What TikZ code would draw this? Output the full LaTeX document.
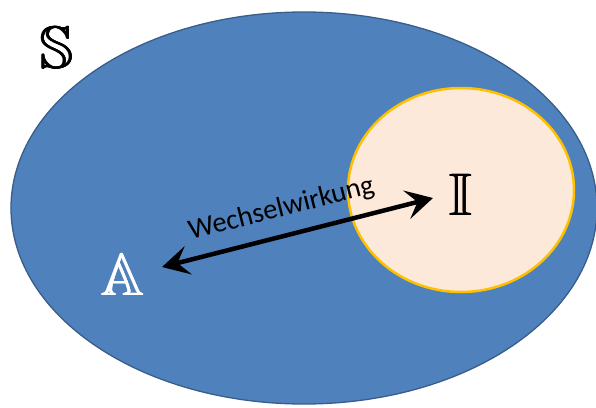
\documentclass[tikz,border=0pt]{standalone}
\usepackage{amssymb}
\usepackage{fontspec}
\newfontfamily\labelfont{Carlito}
\usetikzlibrary{arrows.meta}
\definecolor{setblue}{HTML}{4F81BD}
\definecolor{setblueedge}{HTML}{385D8A}
\definecolor{innerfill}{HTML}{FDE9D9}
\definecolor{innergold}{HTML}{FFC000}
% double-struck letter with heavier strokes (overprinted copies)
\newcommand\heavybb[1]{\ooalign{$\mathbb{#1}$\cr\kern0.6pt$\mathbb{#1}$\cr\kern1.2pt$\mathbb{#1}$\cr\raisebox{0.5pt}{\kern0.6pt$\mathbb{#1}$}\cr}}
\tikzset{
  setletter/.style={inner sep=0pt, font=\fontsize{60}{62}\selectfont},
  wwarrow/.style={line width=4.5pt, {Stealth[length=27pt,width=29pt,inset=11pt]}-{Stealth[length=27pt,width=29pt,inset=11pt]}},
  wwlabel/.style={font=\labelfont\fontsize{28.5}{30}\selectfont, inner sep=0pt}
}
\begin{document}
\begin{tikzpicture}[x=1pt,y=-1pt]
  \useasboundingbox (0,0) rectangle (596,407);
  \clip (0,0) rectangle (596,407);
  % outer set S
  \draw[fill=setblue, draw=setblueedge, line width=1.3pt] (304,208) ellipse [x radius=293, y radius=196];
  % inner set I
  \draw[fill=innerfill, draw=innergold, line width=2.5pt] (461,190) ellipse [x radius=113, y radius=102];
  % set letters
  \node[setletter] (S) at (57,48) {\heavybb{S}};
  \node[setletter, text=white] (A) at (123,275) {\heavybb{A}};
  \node[setletter] (I) at (461,195) {\heavybb{I}};
  % interaction arrow
  \coordinate (pa) at (162,267);
  \coordinate (pi) at (433,198);
  \draw[wwarrow] (pa) -- node[wwlabel, sloped, pos=0.465, above=12pt] {Wechselwirkung} (pi);
\end{tikzpicture}
\end{document}
